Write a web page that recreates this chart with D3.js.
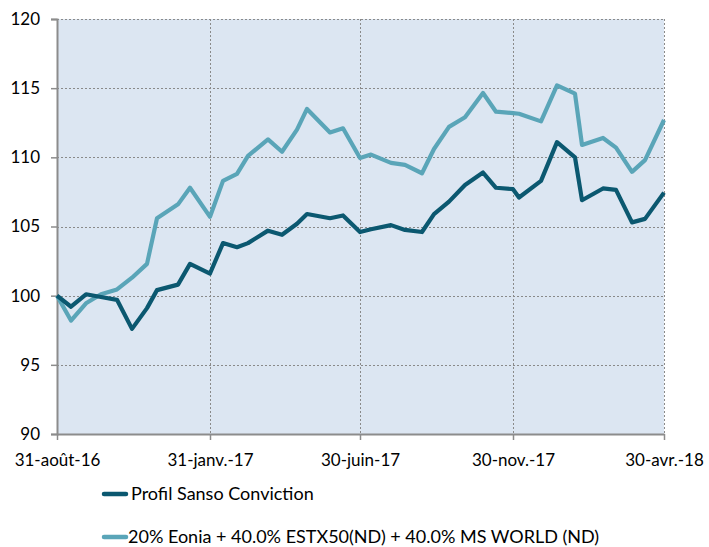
<!DOCTYPE html>
<html><head><meta charset="utf-8">
<script src="https://cdn.jsdelivr.net/npm/d3@7"></script>
<style>html,body{margin:0;padding:0;background:#fff;}svg{display:block;}</style>
</head><body>
<svg id="chart" width="709" height="547"></svg>
<script>
const dates = ["2016-08-31","2016-09-14","2016-09-29","2016-10-14","2016-10-30","2016-11-14","2016-11-29","2016-12-09","2016-12-30","2017-01-11","2017-01-31","2017-02-13","2017-02-27","2017-03-10","2017-03-30","2017-04-13","2017-04-28","2017-05-08","2017-05-31","2017-06-13","2017-06-30","2017-07-11","2017-07-31","2017-08-14","2017-08-31","2017-09-12","2017-09-27","2017-10-13","2017-10-31","2017-11-13","2017-11-30","2017-12-06","2017-12-28","2018-01-13","2018-01-31","2018-02-07","2018-02-28","2018-03-13","2018-03-29","2018-04-11","2018-04-30"];
const profil = [100.0,99.2,100.1,99.9,99.7,97.6,99.1,100.4,100.8,102.3,101.6,103.8,103.5,103.8,104.7,104.4,105.2,105.9,105.6,105.8,104.6,104.8,105.1,104.75,104.6,105.9,106.8,108.0,108.9,107.8,107.7,107.1,108.3,111.1,110.0,106.9,107.75,107.65,105.3,105.55,107.45];
const benchmark = [100.0,98.2,99.45,100.1,100.45,101.3,102.3,105.6,106.6,107.8,105.7,108.3,108.8,110.1,111.3,110.4,112.0,113.5,111.8,112.1,109.95,110.2,109.6,109.45,108.85,110.6,112.2,112.9,114.65,113.3,113.2,113.15,112.6,115.2,114.6,110.9,111.4,110.7,108.95,109.8,112.7];
const seriesNames = ["Profil Sanso Conviction","20% Eonia + 40.0% ESTX50(ND) + 40.0% MS WORLD (ND)"];
const tickDates = ["2016-08-31","2017-01-31","2017-06-30","2017-11-30","2018-04-30"];
const tickLabels = ["31-août-16","31-janv.-17","30-juin-17","30-nov.-17","30-avr.-18"];
const yTicks = [90,95,100,105,110,115,120];

const parse = d3.utcParse("%Y-%m-%d");
const svg = d3.select("#chart");
const font = "Lato, 'Open Sans', sans-serif";
const mLeft = 57, mRight = 664, mTop = 19, mBottom = 434;
const x = d3.scaleUtc().domain([parse("2016-08-31"), parse("2018-04-30")]).range([mLeft, mRight]);
const y = d3.scaleLinear().domain([90,120]).range([mBottom, mTop]);

svg.append("rect").attr("x", mLeft).attr("y", mTop).attr("width", mRight-mLeft).attr("height", mBottom-mTop).attr("fill", "#dce6f2");

svg.append("g").selectAll("line").data(yTicks.filter(v=>v>90)).join("line")
  .attr("x1", mLeft).attr("x2", mRight).attr("y1", d=>Math.round(y(d))+0.5).attr("y2", d=>Math.round(y(d))+0.5)
  .attr("stroke", "#8a8a8a").attr("stroke-width", 1).attr("stroke-dasharray", "2,2");
svg.append("g").selectAll("line").data(tickDates.slice(1)).join("line")
  .attr("x1", d=>Math.round(x(parse(d)))+0.5).attr("x2", d=>Math.round(x(parse(d)))+0.5).attr("y1", mTop).attr("y2", mBottom)
  .attr("stroke", "#8a8a8a").attr("stroke-width", 1).attr("stroke-dasharray", "2,2");

const yAxis = svg.append("g").attr("transform", `translate(${mLeft},0)`)
  .call(d3.axisLeft(y).tickValues(yTicks).tickSize(6).tickPadding(11));
yAxis.select(".domain").attr("stroke", "#8c8c8c").attr("stroke-width", 2);
yAxis.selectAll(".tick line").attr("stroke", "#8c8c8c").attr("stroke-width", 1.5);
yAxis.selectAll("text").attr("font-family", font).attr("font-size", 17).attr("fill", "#000");

const xAxis = svg.append("g").attr("transform", `translate(0,${mBottom})`)
  .call(d3.axisBottom(x).tickValues(tickDates.map(parse)).tickFormat((d,i)=>tickLabels[i]).tickSize(6).tickSizeOuter(0).tickPadding(14));
xAxis.select(".domain").attr("stroke", "#8c8c8c").attr("stroke-width", 2);
xAxis.selectAll(".tick line").attr("stroke", "#8c8c8c").attr("stroke-width", 1.5);
xAxis.selectAll("text").attr("font-family", font).attr("font-size", 17).attr("fill", "#000");

const line = d3.line().x((d,i)=>x(parse(dates[i]))).y(d=>y(d)).curve(d3.curveLinear);
const colors = ["#0b5870", "#5aa5b8"];
svg.append("path").datum(benchmark).attr("d", line).attr("fill","none").attr("stroke", colors[1]).attr("stroke-width", 4.2).attr("stroke-linejoin","round");
svg.append("path").datum(profil).attr("d", line).attr("fill","none").attr("stroke", colors[0]).attr("stroke-width", 4.2).attr("stroke-linejoin","round");

const legY = [494, 537];
seriesNames.forEach((name, i) => {
  const g = svg.append("g");
  g.append("line").attr("x1", 104).attr("x2", 126).attr("y1", legY[i]).attr("y2", legY[i])
    .attr("stroke", colors[i]).attr("stroke-width", 4.5).attr("stroke-linecap","round");
  g.append("text").attr("x", i===0 ? 131 : 128).attr("y", legY[i]).attr("dy", "0.35em")
    .attr("font-family", font).attr("font-size", 18).attr("fill", "#000").text(name);
});
</script>
</body></html>
